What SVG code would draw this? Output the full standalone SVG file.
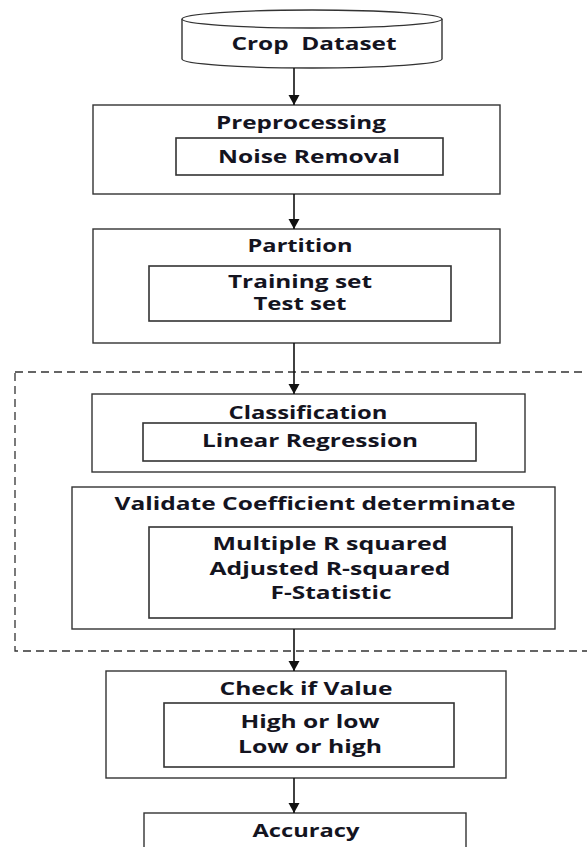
<svg xmlns="http://www.w3.org/2000/svg" width="587" height="847" viewBox="0 0 587 847">
  <defs>
    <!-- arrowhead drawn along +x so orient="auto" turns it to follow the line -->
    <marker id="arrow" markerUnits="userSpaceOnUse" markerWidth="12" markerHeight="12" refX="11" refY="6" orient="auto" viewBox="0 0 12 12">
      <path d="M1,0.5 L11,6 L1,11.5 Z" fill="#111"/>
    </marker>
    <style>
      .box { fill: none; stroke: #333; stroke-width: 1.4; }
      .inner { fill: #fff; stroke: #333; stroke-width: 1.6; }
      .dash { fill: none; stroke: #333; stroke-width: 1.3; stroke-dasharray: 8 5; }
      .conn { stroke: #111; stroke-width: 1.6; fill: none; marker-end: url(#arrow); }
      text { font-family: "Open Sans", "Noto Sans", "Liberation Sans", sans-serif; font-weight: bold; font-size: 17px; fill: #14141f; text-anchor: middle; }
    </style>
  </defs>
  <rect width="587" height="847" fill="#fff"/>

  <!-- dashed grouping frame around the modelling stage -->
  <rect class="dash" x="15" y="372" width="590" height="279"/>

  <g id="crop-dataset">
    <path d="M182,19 L182,59 A130,9 0 0 0 442,59 L442,19" fill="#fff" stroke="#333" stroke-width="1.4"/>
    <ellipse cx="312" cy="19" rx="130" ry="9" fill="#fff" stroke="#333" stroke-width="1.4"/>
    <text x="314" y="50" textLength="165" lengthAdjust="spacingAndGlyphs" xml:space="preserve">Crop  Dataset</text>
  </g>

  <g id="preprocessing">
    <rect class="box" x="93" y="105" width="407" height="89"/>
    <text x="301" y="129" textLength="170" lengthAdjust="spacingAndGlyphs">Preprocessing</text>
    <rect class="inner" x="176" y="138" width="267" height="37"/>
    <text x="309" y="163" textLength="182" lengthAdjust="spacingAndGlyphs">Noise Removal</text>
  </g>

  <g id="partition">
    <rect class="box" x="93" y="229" width="407" height="114"/>
    <text x="300" y="252" textLength="105" lengthAdjust="spacingAndGlyphs">Partition</text>
    <rect class="inner" x="149" y="266" width="302" height="55"/>
    <text x="300" y="288" textLength="144" lengthAdjust="spacingAndGlyphs">Training set</text>
    <text x="300" y="310" textLength="93" lengthAdjust="spacingAndGlyphs">Test set</text>
  </g>

  <g id="classification">
    <rect class="box" x="92" y="394" width="433" height="78"/>
    <text x="308" y="419" textLength="159" lengthAdjust="spacingAndGlyphs">Classification</text>
    <rect class="inner" x="143" y="423" width="333" height="38"/>
    <text x="310" y="447" textLength="216" lengthAdjust="spacingAndGlyphs">Linear Regression</text>
  </g>

  <g id="validate">
    <rect class="box" x="72" y="487" width="483" height="142"/>
    <text x="315" y="510" textLength="401" lengthAdjust="spacingAndGlyphs">Validate Coefficient determinate</text>
    <rect class="inner" x="149" y="527" width="363" height="91"/>
    <text x="330" y="550" textLength="235" lengthAdjust="spacingAndGlyphs">Multiple R squared</text>
    <text x="330" y="575" textLength="241" lengthAdjust="spacingAndGlyphs">Adjusted R-squared</text>
    <text x="331" y="599" textLength="121" lengthAdjust="spacingAndGlyphs">F-Statistic</text>
  </g>

  <g id="check-value">
    <rect class="box" x="106" y="671" width="400" height="107"/>
    <text x="306" y="695" textLength="173" lengthAdjust="spacingAndGlyphs">Check if Value</text>
    <rect class="inner" x="164" y="703" width="290" height="64"/>
    <text x="310" y="728" textLength="139" lengthAdjust="spacingAndGlyphs">High or low</text>
    <text x="310" y="753" textLength="144" lengthAdjust="spacingAndGlyphs">Low or high</text>
  </g>

  <g id="accuracy">
    <rect class="box" x="144" y="813" width="322" height="50"/>
    <text x="306" y="837" textLength="107" lengthAdjust="spacingAndGlyphs">Accuracy</text>
  </g>

  <g id="connectors">
    <line class="conn" x1="294" y1="68" x2="294" y2="105"/>
    <line class="conn" x1="294" y1="194" x2="294" y2="229"/>
    <line class="conn" x1="294" y1="343" x2="294" y2="394"/>
    <line class="conn" x1="294" y1="629" x2="294" y2="671"/>
    <line class="conn" x1="294" y1="778" x2="294" y2="813"/>
  </g>
</svg>
